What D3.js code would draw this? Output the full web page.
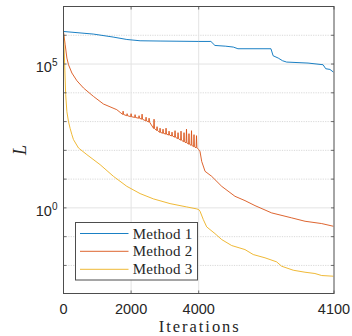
<!DOCTYPE html>
<html>
<head>
<meta charset="utf-8">
<script src="https://cdn.jsdelivr.net/npm/d3@7"></script>
<style>
  html, body { margin: 0; padding: 0; background: #fff; }
  svg { display: block; }
</style>
</head>
<body>
<svg id="chart" width="352" height="336"></svg>
<script>
// Series names and colours
const seriesNames = ["Method 1", "Method 2", "Method 3"];
const seriesColors = ["#0072BD", "#D95319", "#EDB120"];

// Axis ticks (x axis has a zoomed last segment 4000–4100)
const xTicks = [0, 2000, 4000, 4100];
const yMajorTicks = [1e0, 1e5];
const yDecades = [1e-2, 1e-1, 1e0, 1e1, 1e2, 1e3, 1e4, 1e5, 1e6];

// Method 1
const m1Iter = [0, 886, 1468, 1873, 2266, 2857, 4000, 4009, 4012, 4020, 4025.6, 4029, 4053.4, 4055, 4058.8, 4062, 4065, 4080.8, 4091.9, 4093.9, 4097, 4099.5];
const m1Value = [1.355e6, 1.10e6, 8.67e5, 7.14e5, 6.44e5, 6.30e5, 6.10e5, 6.10e5, 4.43e5, 4.17e5, 3.89e5, 3.40e5, 3.40e5, 1.94e5, 1.61e5, 1.30e5, 1.17e5, 1.08e5, 9.46e4, 6.87e4, 6.50e4, 5.27e4];

// Method 2 (smooth part)
const m2Iter = [0, 50, 100, 148, 248, 396, 591, 886, 1182, 1577, 1675, 3970, 4000, 4001, 4002.2, 4004.7, 4009.6, 4017, 4026.8, 4034.2, 4041.6, 4053.9, 4068.7, 4078.6, 4090.9, 4099.5];
const m2Value = [1.29e6, 4.68e5, 1.61e5, 9.46e4, 4.88e4, 2.63e4, 1.47e4, 7.50e3, 4.08e3, 2.59e3, 2.09e3, 117, 106, 90, 41.5, 18.7, 12.5, 5.62, 2.53, 1.79, 1.20, 0.670, 0.450, 0.343, 0.285, 0.230];
// Method 2 oscillations: iteration, level before/after, peak level
const m2SpikeIter = [1764, 1882, 2000, 2118, 2236, 2325, 2443, 2532, 2679, 2768, 2857, 2945, 3034, 3123, 3211, 3300, 3389, 3477, 3566, 3639, 3713, 3787, 3861, 3935];
const m2SpikeBase = [1770, 1600, 1480, 1390, 1310, 1210, 1060, 968, 575, 491, 422, 393, 366, 340, 316, 287, 255, 226, 200, 182, 164, 149, 134, 122];
const m2SpikePeak = [2300, 1880, 1880, 1740, 1600, 1810, 1420, 1310, 1210, 665, 590, 545, 590, 465, 429, 483, 412, 465, 412, 545, 380, 483, 351, 324];

// Method 3
const m3Iter = [0, 35, 65, 100, 148, 198, 248, 295, 443, 691, 1084, 1477, 1873, 2266, 2659, 3152, 3645, 3941, 4000, 4001, 4003.4, 4005.9, 4012, 4017, 4024.4, 4034.2, 4040.3, 4049, 4057.6, 4061.3, 4069.9, 4078.5, 4085.9, 4090.9, 4099.5];
const m3Value = [1.32e6, 9.46e4, 8.59e3, 2.21e3, 993, 568, 352, 236, 121, 71.0, 31.8, 12.5, 5.62, 3.14, 2.06, 1.41, 1.08, 0.923, 0.873, 0.762, 0.393, 0.219, 0.128, 0.0793, 0.0491, 0.0356, 0.0239, 0.0184, 0.0133, 0.00938, 0.00681, 0.00581, 0.00524, 0.00446, 0.00422];

// ---- layout ----
const svg = d3.select("#chart");
const plotL = 63.5, plotR = 334, plotT = 6.5, plotB = 293.5;
const axisColor = "#4d4d4d";
const textColor = "#262626";
const sansFont = "'Liberation Sans', Arial, sans-serif";
const serifFont = "'Liberation Serif', 'Times New Roman', serif";

const x = d3.scaleLinear().domain([0, 4000, 4100]).range([plotL, 198.7, plotR]);
const y = d3.scaleLog().domain([1e-3, 1e7]).range([294.2, plotT]);

// ---- grid ----
const grid = svg.append("g");
// minor (dotted) decades
grid.selectAll("line.minor").data(yDecades.filter(d => !yMajorTicks.includes(d)))
  .join("line")
  .attr("x1", plotL).attr("x2", plotR)
  .attr("y1", d => y(d)).attr("y2", d => y(d))
  .attr("stroke", "#cfcfcf").attr("stroke-width", 0.8)
  .attr("stroke-dasharray", "1.2,1.2");
// major horizontal
grid.selectAll("line.majy").data(yMajorTicks)
  .join("line")
  .attr("x1", plotL).attr("x2", plotR)
  .attr("y1", d => y(d)).attr("y2", d => y(d))
  .attr("stroke", "#e3e3e3").attr("stroke-width", 1);
// major vertical
grid.selectAll("line.majx").data(xTicks.slice(1, 3))
  .join("line")
  .attr("x1", d => x(d)).attr("x2", d => x(d))
  .attr("y1", plotT).attr("y2", plotB)
  .attr("stroke", "#e3e3e3").attr("stroke-width", 1);

// ---- series ----
function zipSeries(iters, vals) {
  return iters.map((it, i) => [it, vals[i]]);
}
const m2Points = zipSeries(m2Iter, m2Value);
m2SpikeIter.forEach((it, i) => {
  m2Points.push([it - 12, m2SpikeBase[i]]);
  m2Points.push([it, m2SpikePeak[i]]);
  m2Points.push([it + 12, m2SpikeBase[i]]);
});
m2Points.sort((a, b) => a[0] - b[0]);

const seriesData = [
  zipSeries(m1Iter, m1Value),
  m2Points,
  zipSeries(m3Iter, m3Value)
];

const line = d3.line().x(d => x(d[0])).y(d => y(d[1]));

svg.append("defs").append("clipPath").attr("id", "plotClip")
  .append("rect").attr("x", plotL).attr("y", plotT).attr("width", plotR - plotL).attr("height", plotB - plotT);

const lines = svg.append("g").attr("clip-path", "url(#plotClip)");
seriesData.forEach((pts, i) => {
  lines.append("path")
    .datum(pts)
    .attr("d", line)
    .attr("fill", "none")
    .attr("stroke", seriesColors[i])
    .attr("stroke-width", 0.9)
    .attr("stroke-linejoin", "round");
});

// ---- axes box and ticks ----
const axes = svg.append("g");
axes.append("rect")
  .attr("x", plotL).attr("y", plotT)
  .attr("width", plotR - plotL).attr("height", plotB - plotT)
  .attr("fill", "none").attr("stroke", axisColor).attr("stroke-width", 1);

const tickLen = 3;
// y ticks at each decade, both sides, pointing inward
axes.selectAll("line.ytl").data(yDecades).join("line")
  .attr("x1", plotL).attr("x2", plotL + tickLen)
  .attr("y1", d => y(d)).attr("y2", d => y(d))
  .attr("stroke", axisColor).attr("stroke-width", 0.8);
axes.selectAll("line.ytr").data(yDecades).join("line")
  .attr("x1", plotR).attr("x2", plotR - tickLen)
  .attr("y1", d => y(d)).attr("y2", d => y(d))
  .attr("stroke", axisColor).attr("stroke-width", 0.8);
// x ticks bottom & top
axes.selectAll("line.xtb").data(xTicks).join("line")
  .attr("x1", d => x(d)).attr("x2", d => x(d))
  .attr("y1", plotB).attr("y2", plotB - tickLen)
  .attr("stroke", axisColor).attr("stroke-width", 0.8);
axes.selectAll("line.xtt").data(xTicks).join("line")
  .attr("x1", d => x(d)).attr("x2", d => x(d))
  .attr("y1", plotT).attr("y2", plotT + tickLen)
  .attr("stroke", axisColor).attr("stroke-width", 0.8);

// x tick labels
svg.selectAll("text.xt").data(xTicks).join("text")
  .attr("x", d => x(d)).attr("y", 313.5)
  .attr("text-anchor", "middle")
  .attr("font-family", sansFont).attr("font-size", 14.5)
  .attr("fill", textColor)
  .text(d => d);

// y tick labels (10^n)
yMajorTicks.forEach(v => {
  const t = svg.append("text")
    .attr("x", 57.5).attr("y", y(v) + 8.2)
    .attr("text-anchor", "end")
    .attr("font-family", sansFont).attr("fill", textColor);
  t.append("tspan").attr("font-size", 14.5).text("10");
  t.append("tspan").attr("font-size", 10).attr("dy", -6.5).text(Math.round(Math.log10(v)));
});

// axis titles
svg.append("text")
  .attr("x", (plotL + plotR) / 2).attr("y", 332.3)
  .attr("text-anchor", "middle")
  .attr("font-family", serifFont).attr("font-size", 16.5)
  .attr("fill", textColor)
  .attr("textLength", 80).attr("lengthAdjust", "spacing")
  .text("Iterations");

svg.append("text")
  .attr("transform", `translate(26, ${(plotT + plotB) / 2}) rotate(-90)`)
  .attr("text-anchor", "middle")
  .attr("font-family", serifFont).attr("font-size", 18)
  .attr("font-style", "italic")
  .attr("fill", textColor)
  .text("L");

// ---- legend ----
const lg = svg.append("g");
lg.append("rect")
  .attr("x", 75.5).attr("y", 222.5)
  .attr("width", 122).attr("height", 57.5)
  .attr("fill", "#fff").attr("stroke", axisColor).attr("stroke-width", 1);
const rowY = [233.5, 251.3, 269.3];
seriesNames.forEach((name, i) => {
  lg.append("line")
    .attr("x1", 80).attr("x2", 128.5)
    .attr("y1", rowY[i]).attr("y2", rowY[i])
    .attr("stroke", seriesColors[i]).attr("stroke-width", 0.9);
  lg.append("text")
    .attr("x", 132.7).attr("y", rowY[i] + 5)
    .attr("font-family", serifFont).attr("font-size", 15)
    .attr("fill", textColor)
    .attr("textLength", 59.5).attr("lengthAdjust", "spacing")
    .text(name);
});
</script>
</body>
</html>
